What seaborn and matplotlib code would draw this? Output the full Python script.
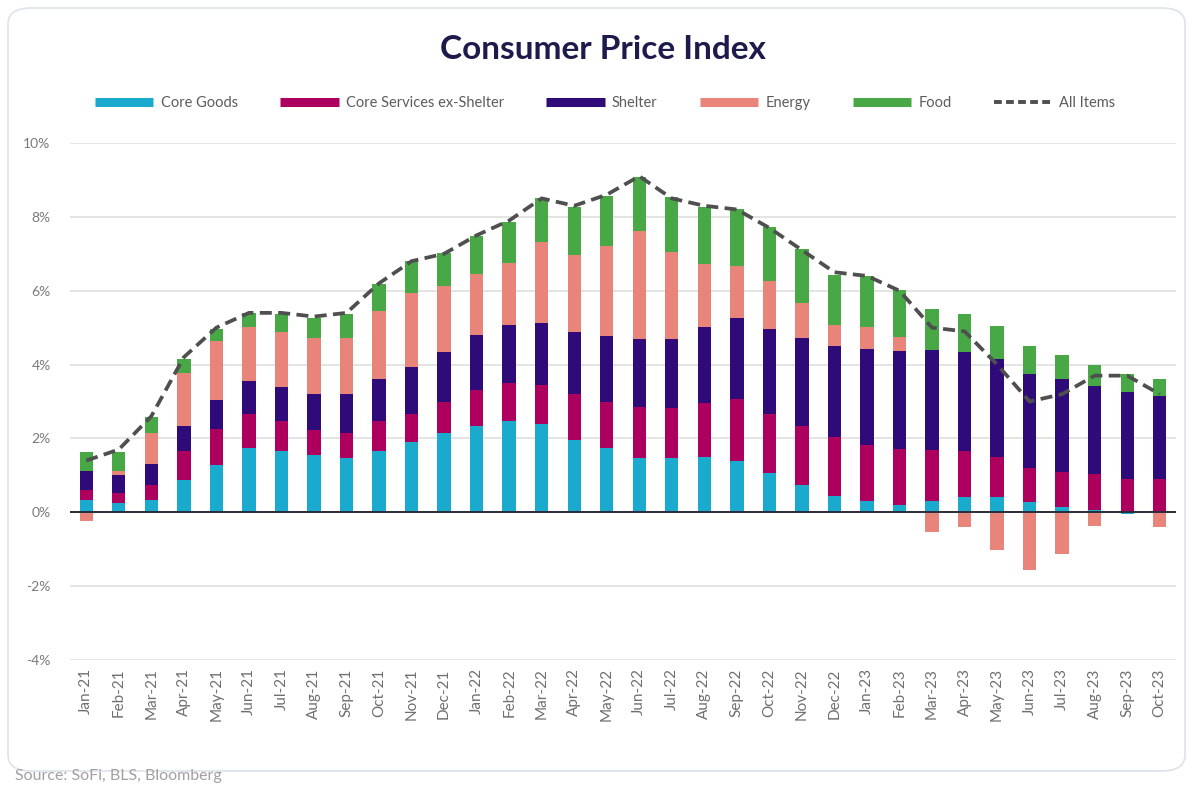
import numpy as np
import matplotlib.pyplot as plt
import seaborn as sns
from matplotlib.lines import Line2D
from matplotlib.patches import FancyBboxPatch

# ---------------------------------------------------------------------
# Data (contribution to CPI y/y, percentage points)
# ---------------------------------------------------------------------
months = ["Jan-21", "Feb-21", "Mar-21", "Apr-21", "May-21", "Jun-21", "Jul-21",
          "Aug-21", "Sep-21", "Oct-21", "Nov-21", "Dec-21", "Jan-22", "Feb-22",
          "Mar-22", "Apr-22", "May-22", "Jun-22", "Jul-22", "Aug-22", "Sep-22",
          "Oct-22", "Nov-22", "Dec-22", "Jan-23", "Feb-23", "Mar-23", "Apr-23",
          "May-23", "Jun-23", "Jul-23", "Aug-23", "Sep-23", "Oct-23"]

core_goods = [0.32, 0.24, 0.32, 0.88, 1.28, 1.73, 1.67, 1.54, 1.46, 1.67, 1.90, 2.14,
              2.35, 2.48, 2.38, 1.96, 1.73, 1.48, 1.47, 1.49, 1.38, 1.06, 0.75, 0.43,
              0.30, 0.21, 0.30, 0.41, 0.41, 0.27, 0.15, 0.05, -0.05, 0.0]
core_services = [0.27, 0.27, 0.43, 0.77, 0.97, 0.93, 0.81, 0.68, 0.68, 0.79, 0.75, 0.84,
                 0.97, 1.02, 1.06, 1.23, 1.25, 1.36, 1.35, 1.46, 1.69, 1.61, 1.60, 1.62,
                 1.51, 1.51, 1.40, 1.25, 1.08, 0.92, 0.95, 0.98, 0.89, 0.90]
shelter = [0.52, 0.50, 0.56, 0.70, 0.78, 0.89, 0.92, 0.98, 1.05, 1.15, 1.28, 1.36,
           1.47, 1.57, 1.69, 1.69, 1.79, 1.84, 1.86, 2.06, 2.19, 2.29, 2.37, 2.45,
           2.62, 2.65, 2.70, 2.68, 2.66, 2.56, 2.51, 2.38, 2.36, 2.26]
energy = [-0.23, 0.12, 0.83, 1.42, 1.61, 1.46, 1.47, 1.51, 1.54, 1.83, 2.01, 1.78,
          1.67, 1.67, 2.18, 2.08, 2.44, 2.95, 2.37, 1.72, 1.40, 1.31, 0.95, 0.56,
          0.59, 0.38, -0.54, -0.41, -1.02, -1.56, -1.13, -0.36, 0.0, -0.41]
food = [0.51, 0.51, 0.45, 0.39, 0.33, 0.38, 0.51, 0.54, 0.65, 0.74, 0.86, 0.89,
        1.01, 1.11, 1.21, 1.31, 1.36, 1.45, 1.49, 1.54, 1.54, 1.46, 1.45, 1.37,
        1.38, 1.26, 1.11, 1.02, 0.90, 0.74, 0.66, 0.57, 0.50, 0.45]
all_items = [1.4, 1.7, 2.6, 4.2, 5.0, 5.4, 5.4, 5.3, 5.4, 6.2, 6.8, 7.0, 7.5, 7.9,
             8.5, 8.3, 8.6, 9.1, 8.5, 8.3, 8.2, 7.7, 7.1, 6.5, 6.4, 6.0, 5.0, 4.9,
             4.0, 3.0, 3.2, 3.7, 3.7, 3.2]

series_names = ["Core Goods", "Core Services ex-Shelter", "Shelter", "Energy", "Food"]
series_vals = [core_goods, core_services, shelter, energy, food]
series_colors = ["#1aaacd", "#ad005e", "#2e0b78", "#e8847a", "#48a846"]
line_color = "#4f4f4f"

# ---------------------------------------------------------------------
# Figure
# ---------------------------------------------------------------------
sns.set_theme(style="white")
plt.rcParams["font.family"] = ["Lato", "DejaVu Sans"]

fig = plt.figure(figsize=(11.94, 7.87), dpi=100)
fig.patch.set_facecolor("white")

# rounded card border
card = FancyBboxPatch((8 / 1194, 16 / 787), 1177 / 1194, 763 / 787,
                      boxstyle="round,pad=0,rounding_size=0.02",
                      transform=fig.transFigure, facecolor="none",
                      edgecolor="#dde3ea", linewidth=1.2, zorder=0)
fig.patches.append(card)

ax = fig.add_axes([70 / 1194, 1 - 660 / 787, (1176 - 70) / 1194, (660 - 143) / 787])

# stacked bars, positives upward and negatives downward
pos_base = np.zeros(len(months))
neg_base = np.zeros(len(months))
for name, vals, col in zip(series_names, series_vals, series_colors):
    v = np.array(vals, dtype=float)
    base = np.where(v >= 0, pos_base, neg_base)
    sns.barplot(x=months, y=v, bottom=base, order=months, color=col, saturation=1,
                width=0.41, errorbar=None, linewidth=0, ax=ax, zorder=3)
    pos_base = pos_base + np.clip(v, 0, None)
    neg_base = neg_base + np.clip(v, None, 0)

# all items dashed line
sns.lineplot(x=np.arange(len(months)), y=all_items, color=line_color, linewidth=2.7,
             linestyle=(0, (3.2, 1.7)), ax=ax, zorder=5)

ax.axhline(0, color="#2a2a3a", linewidth=1.4, zorder=4)

ax.set_ylim(-4, 10)
ax.set_xlim(-0.5, len(months) - 0.5)
ax.set_yticks(np.arange(-4, 11, 2))
ax.set_yticklabels([f"{t}%" for t in range(-4, 11, 2)])
ax.set_xticks(np.arange(len(months)))
ax.set_xticklabels(months, rotation=90)
ax.grid(axis="y", color="#dcdcdc", linewidth=1.1, zorder=0)
ax.set_axisbelow(True)
for s in ax.spines.values():
    s.set_visible(False)
ax.tick_params(axis="y", length=0, pad=14, labelsize=10, labelcolor="#7a7a7a")
ax.tick_params(axis="x", length=0, pad=6, labelsize=11, labelcolor="#6f6f6f")
ax.set_xlabel("")
ax.set_ylabel("")

# title
fig.text(0.505, 0.937, "Consumer Price Index", ha="center", va="center",
         fontsize=24, fontweight="bold", color="#1d1b4c")

# legend
handles = [Line2D([0], [0], color=c, linewidth=6.5, solid_capstyle="butt")
           for c in series_colors]
handles.append(Line2D([0], [0], color=line_color, linewidth=2.8,
                      linestyle=(0, (2.0, 1.1))))
labels = series_names + ["All Items"]
fig.legend(handles, labels, loc="center", bbox_to_anchor=(0.507, 0.869), ncol=6,
           frameon=False, fontsize=10.5, handlelength=4.0, columnspacing=2.9,
           handletextpad=0.5, labelcolor="#5c5c5c")

# source
fig.text(15 / 1194, 1 - 776 / 787, "Source: SoFi, BLS, Bloomberg", ha="left",
         va="center", fontsize=11.5, color="#a0a0a0")

fig.savefig("out.png", dpi=100, facecolor="white")
